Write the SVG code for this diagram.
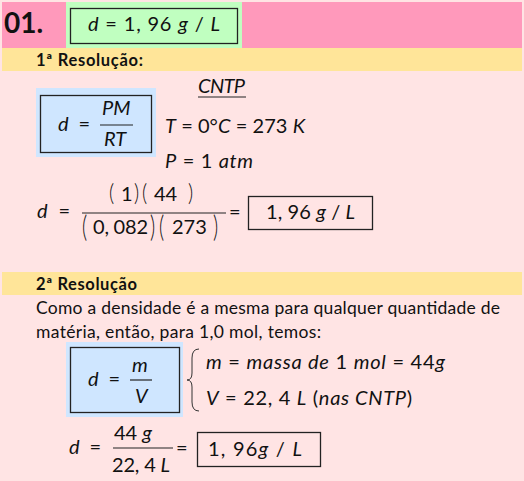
<svg xmlns="http://www.w3.org/2000/svg" width="524" height="481" viewBox="0 0 524 481">
<style>
text{font-family:"Lato","Open Sans","Liberation Sans",sans-serif;fill:#111;}
.b{font-weight:bold;}
.i{font-style:italic;}
.m{font-size:20px;}
.t{font-size:17.5px;}
.box{fill:none;stroke:#222;stroke-width:1.3;}
.ln{stroke:#222;stroke-width:1.2;}
.p{font-size:20px;font-weight:300;}
</style>
<rect x="0" y="0" width="524" height="481" fill="#ffe4e4"/>
<g id="header">
<rect x="2" y="2" width="520" height="46" fill="#ff99bb"/>
<rect x="66" y="2" width="176" height="46" fill="#c0ffc0"/>
<rect class="box" x="70.5" y="8.5" width="167" height="35"/>
<text x="4" y="33" class="b" font-size="28">01.</text>
<text x="88" y="31" class="m" textLength="132" lengthAdjust="spacing"><tspan class="i">d</tspan> = 1, 96 <tspan class="i">g</tspan> / <tspan class="i">L</tspan></text>
</g>
<g id="res1-title">
<rect x="2" y="48" width="520" height="23" fill="#ffe599"/>
<text x="36" y="66" class="b" font-size="16.5" textLength="107" lengthAdjust="spacing">1ª Resolução:</text>
</g>
<g id="formula1">
<rect x="36" y="88" width="120" height="69" fill="#cfe6ff"/>
<rect class="box" x="40.5" y="95.5" width="111" height="57"/>
<text x="58" y="131" class="m" textLength="32" lengthAdjust="spacing"><tspan class="i">d</tspan> =</text>
<text x="102" y="115" class="m i">PM</text>
<line class="ln" x1="100" y1="125" x2="133" y2="125"/>
<text x="104" y="146" class="m i">RT</text>
</g>
<g id="cntp">
<text x="198" y="93" class="m i" textLength="47">CNTP</text>
<line class="ln" x1="198" y1="97" x2="246" y2="97"/>
<text x="165" y="133" class="m" textLength="140" lengthAdjust="spacing"><tspan class="i">T</tspan> = 0°<tspan class="i">C</tspan> = 273 <tspan class="i">K</tspan></text>
<text x="165" y="168" class="m" textLength="88" lengthAdjust="spacing"><tspan class="i">P</tspan> = 1 <tspan class="i">atm</tspan></text>
</g>
<g id="calc1">
<text x="37" y="218" class="m" textLength="33" lengthAdjust="spacing"><tspan class="i">d</tspan> =</text>
<g transform="translate(0,201) scale(1,1.15)">
<text x="109" y="0" class="p">(</text>
<text x="134" y="0" class="p">)</text>
<text x="142" y="0" class="p">(</text>
<text x="188" y="0" class="p">)</text>
</g>
<text x="121" y="201" class="m">1</text>
<text x="154" y="201" class="m">44</text>
<line class="ln" x1="82" y1="213" x2="226" y2="213"/>
<g transform="translate(0,237) scale(1,1.45)">
<text x="82" y="0" class="p">(</text>
<text x="150" y="0" class="p">)</text>
<text x="159" y="0" class="p">(</text>
<text x="213" y="0" class="p">)</text>
</g>
<text x="93" y="234" class="m" textLength="55" lengthAdjust="spacing">0, 082</text>
<text x="172" y="234" class="m">273</text>
<text x="229" y="219" class="m">=</text>
<rect class="box" x="248.5" y="196.5" width="124" height="33"/>
<text x="266" y="219" class="m" textLength="89" lengthAdjust="spacing">1, 96 <tspan class="i">g</tspan> / <tspan class="i">L</tspan></text>
</g>
<g id="res2-title">
<rect x="2" y="272" width="520" height="23" fill="#ffe599"/>
<text x="36" y="290" class="b" font-size="16.5" textLength="101" lengthAdjust="spacing">2ª Resolução</text>
</g>
<g id="res2-text">
<text x="36" y="314" class="t" textLength="464" lengthAdjust="spacing">Como a densidade é a mesma para qualquer quantidade de</text>
<text x="36" y="338" class="t" textLength="285" lengthAdjust="spacing">matéria, então, para 1,0 mol, temos:</text>
</g>
<g id="formula2">
<rect x="66" y="342" width="117" height="75" fill="#cfe6ff"/>
<rect class="box" x="70.5" y="347.5" width="109" height="65"/>
<text x="88" y="386" class="m" textLength="32" lengthAdjust="spacing"><tspan class="i">d</tspan> =</text>
<text x="132" y="372" class="m i">m</text>
<line class="ln" x1="130" y1="380" x2="152" y2="380"/>
<text x="135" y="403" class="m i">V</text>
</g>
<g id="brace">
<path d="M199,349 Q192,349 192,358 L192,373 Q192,380 187,380 Q192,380 192,387 L192,402 Q192,411 199,411" fill="none" stroke="#333" stroke-width="1"/>
<text x="206" y="369" class="m" textLength="239" lengthAdjust="spacing"><tspan class="i">m</tspan> = <tspan class="i">massa de</tspan> 1 <tspan class="i">mol</tspan> = 44<tspan class="i">g</tspan></text>
<text x="206" y="405" class="m" textLength="206" lengthAdjust="spacing"><tspan class="i">V</tspan> = 22, 4 <tspan class="i">L</tspan>  (<tspan class="i">nas CNTP</tspan>)</text>
</g>
<g id="calc2">
<text x="69" y="454" class="m" textLength="32" lengthAdjust="spacing"><tspan class="i">d</tspan> =</text>
<text x="114" y="440" class="m">44 <tspan class="i">g</tspan></text>
<line class="ln" x1="113" y1="448" x2="173" y2="448"/>
<text x="112" y="472" class="m" textLength="58" lengthAdjust="spacing">22, 4 <tspan class="i">L</tspan></text>
<text x="176" y="455" class="m">=</text>
<rect class="box" x="197.5" y="432.5" width="123" height="34"/>
<text x="208" y="456" class="m" textLength="94" lengthAdjust="spacing">1, 96<tspan class="i">g</tspan> / <tspan class="i">L</tspan></text>
</g>
</svg>
